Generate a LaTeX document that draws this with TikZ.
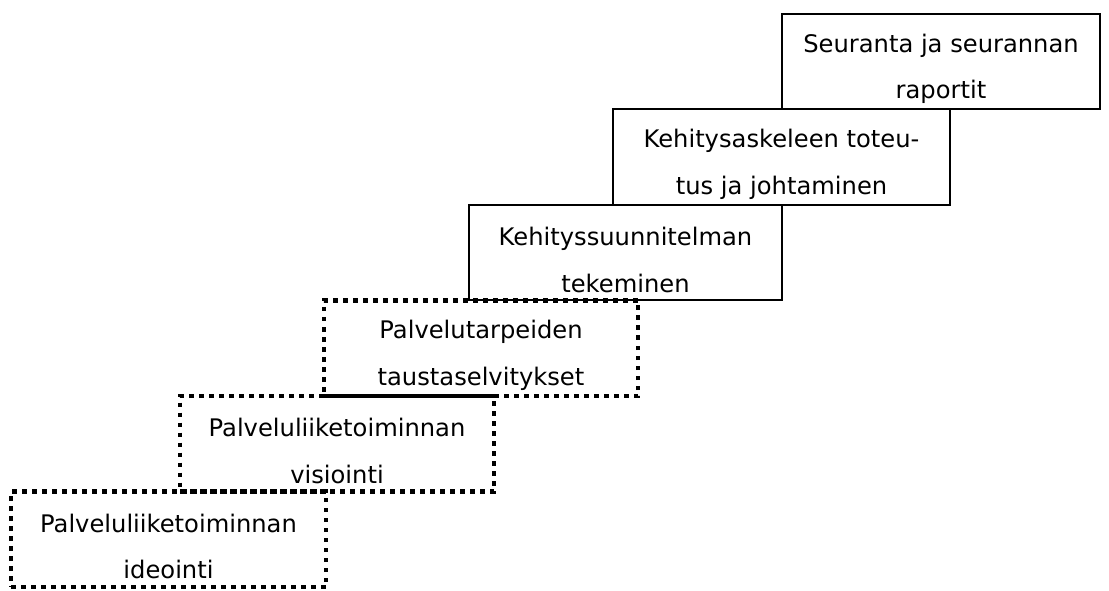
\documentclass[tikz,border=0pt]{standalone}
\usepackage{fontspec}
\setmainfont{DejaVu Sans}
\begin{document}
\begin{tikzpicture}[x=1pt,y=1pt,
  phase node/.style={rectangle,draw,inner sep=0pt,outer sep=0pt,anchor=south west,
    minimum height=95.5pt},
  plan node/.style={phase node,line width=4.5pt,dash pattern=on 4.5pt off 5.5pt},
  work node/.style={phase node,line width=2pt},
  phase text/.style={align=center,inner sep=0pt,font=\fontsize{24.2}{46.5}\selectfont}]
  \useasboundingbox (0,0) rectangle (1109,590);

  \node[plan node, minimum width=315pt] (I) at (11,3) {};
  \node[plan node, minimum width=314pt] (V) at ([xshift=169pt]I.north west) {};
  \node[plan node, minimum width=314pt] (T) at ([xshift=144pt]V.north west) {};
  \node[work node, minimum width=313pt] (K) at ([xshift=145pt]T.north west) {};
  \node[work node, minimum width=337pt] (J) at ([xshift=144pt]K.north west) {};
  \node[work node, minimum width=318pt] (S) at ([xshift=169pt]J.north west) {};

  \node[phase text] (I text) at ([yshift=-7pt]I.center) {Palveluliiketoiminnan\\ideointi};
  \node[phase text] (V text) at ([yshift=-7pt]V.center) {Palveluliiketoiminnan\\visiointi};
  \node[phase text] (T text) at ([yshift=-7pt]T.center) {Palvelutarpeiden\\taustaselvitykset};
  \node[phase text] (K text) at ([yshift=-7pt]K.center) {Kehityssuunnitelman\\tekeminen};
  \node[phase text] (J text) at ([yshift=-7pt]J.center) {Kehitysaskeleen toteu-\\tus ja johtaminen};
  \node[phase text] (S text) at ([yshift=-7pt]S.center) {Seuranta ja seurannan\\raportit};
\end{tikzpicture}
\end{document}
